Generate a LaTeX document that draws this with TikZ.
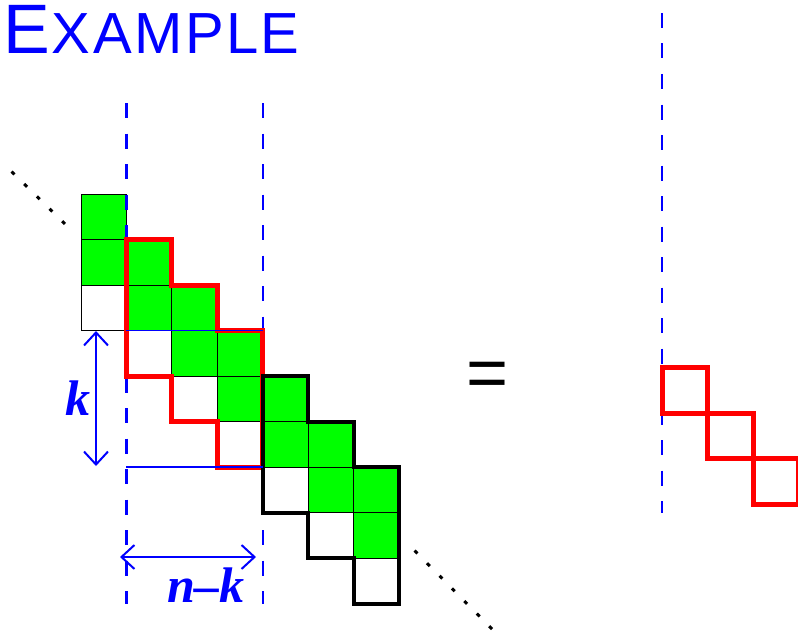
\documentclass[tikz,border=0pt]{standalone}
\usepackage{fontspec}
\setmainfont{Liberation Serif}
\newfontfamily\sansf{Liberation Sans}
\usetikzlibrary{arrows.meta}
\begin{document}
\begin{tikzpicture}[x=1pt,y=-1pt,
 cellg/.style={fill=green, draw=black, line width=1pt},
 cellw/.style={fill=white, draw=black, line width=1pt},
 redout/.style={draw=red, line width=5pt, line join=miter},
 blkout/.style={draw=black, line width=4pt, line join=miter},
 guide/.style={draw=blue, line width=2.3pt, dash pattern=on 15pt off 15.5pt},
 bline/.style={draw=blue, line width=1.6pt},
 dim/.style={draw=blue, line width=2pt, {Straight Barb[length=13pt,width=24pt]}-{Straight Barb[length=13pt,width=24pt]}},
 dotsline/.style={draw=black, line width=3pt, dash pattern=on 4pt off 13.7pt},
 lab/.style={text=blue, font=\fontsize{50}{50}\selectfont\bfseries\itshape, inner sep=0pt}
]
\useasboundingbox (0,0) rectangle (798,634);
% title
\node[anchor=base west, inner sep=0pt, text=blue] (title) at (3,54)
  {\sansf\fontsize{70}{70}\selectfont E\kern2pt\fontsize{58}{58}\selectfont X\kern2.5pt A\kern2.5pt M\kern2.5pt P\kern2.5pt L\kern2.5pt E};
% grid cells
\foreach \i in {0,...,6}{
  \pgfmathsetmacro\xa{81+45.43*\i}
  \pgfmathsetmacro\xb{81+45.43*(\i+1)}
  \pgfmathsetmacro\ya{194+45.5*\i}
  \pgfmathsetmacro\yb{194+45.5*(\i+1)}
  \pgfmathsetmacro\yc{194+45.5*(\i+2)}
  \pgfmathsetmacro\yd{194+45.5*(\i+3)}
  \draw[cellg] (\xa,\ya) rectangle (\xb,\yb);
  \draw[cellg] (\xa,\yb) rectangle (\xb,\yc);
  \draw[cellw] (\xa,\yc) rectangle (\xb,\yd);
}
% guides
\coordinate (g1t) at (126.43,103); \coordinate (g1b) at (126.43,604);
\coordinate (g2t) at (262.72,103); \coordinate (g2b) at (262.72,604);
\coordinate (g3t) at (662,13); \coordinate (g3b) at (662,513);
\draw[guide] (g1t) -- (g1b);
\draw[guide] (g2t) -- (g2b);
\draw[guide] (g3t) -- (g3b);
% outlines
\draw[redout] (126.43,239.5) -- (171.86,239.5) -- (171.86,285) -- (217.29,285) -- (217.29,330.5)
  -- (262.72,330.5) -- (262.72,467) -- (217.29,467) -- (217.29,421.5) -- (171.86,421.5)
  -- (171.86,376) -- (126.43,376) -- cycle;
\draw[blkout] (262.72,376) -- (308.15,376) -- (308.15,421.5) -- (353.58,421.5) -- (353.58,467)
  -- (399.01,467) -- (399.01,603.5) -- (353.58,603.5) -- (353.58,558) -- (308.15,558)
  -- (308.15,512.5) -- (262.72,512.5) -- cycle;
% blue horizontals
\coordinate (h1a) at (126.43,330.5); \coordinate (h1b) at (262.72,330.5);
\coordinate (h2a) at (126.43,467); \coordinate (h2b) at (262.72,467);
\draw[bline] (h1a) -- (h1b);
\draw[bline] (h2a) -- (h2b);
% dimension arrows
\coordinate (ka) at (96,331); \coordinate (kb) at (96,466);
\draw[dim] (ka) -- (kb);
\node[lab] (k) at (78,398) {k};
\coordinate (na) at (120,557); \coordinate (nb) at (256,557);
\draw[dim] (na) -- (nb);
\node[lab, anchor=base] (nk) at (206,602) {n–k};
% equals
\node[inner sep=0pt] (eq) at (488,380) {\sansf\fontsize{72}{72}\selectfont =};
% right squares
\draw[redout] (662,367.5) rectangle (707.5,413);
\draw[redout] (707.5,413) rectangle (753,458.5);
\draw[redout] (753,458.5) rectangle (798.5,504);
% dots
\coordinate (d1a) at (11.6,171.6); \coordinate (d1b) at (65,224);
\coordinate (d2a) at (414.6,550.6); \coordinate (d2b) at (493,630);
\draw[dotsline] (d1a) -- (d1b);
\draw[dotsline] (d2a) -- (d2b);
\end{tikzpicture}
\end{document}
